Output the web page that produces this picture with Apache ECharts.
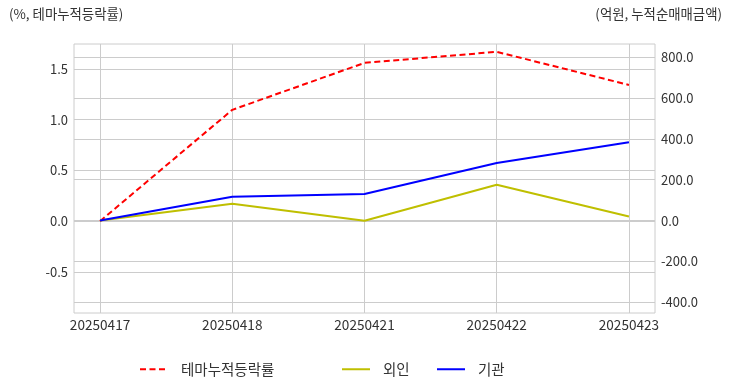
<!DOCTYPE html>
<html>
<head>
<meta charset="utf-8">
<script src="https://cdn.jsdelivr.net/npm/echarts@6/dist/echarts.min.js"></script>
<style>
  html, body { margin: 0; padding: 0; background: #ffffff; }
  #chart { width: 732px; height: 392px; }
</style>
</head>
<body>
<div id="chart"></div>
<script>
const categories = ['20250417', '20250418', '20250421', '20250422', '20250423'];
const themeReturn = [0.0, 1.096, 1.558, 1.667, 1.341];   // %, left axis
const foreignNet = [0, 82, -1, 175, 20];                 // 억원, right axis
const instNet = [0, 117, 130, 282, 383];                 // 억원, right axis
const leftTicks = [-0.5, 0.0, 0.5, 1.0, 1.5];
const rightTicks = [-400, -200, 0, 200, 400, 600, 800];
const seriesNames = ['테마누적등락률', '외인', '기관'];
const leftTitle = '(%, 테마누적등락률)';
const rightTitle = '(억원, 누적순매매금액)';

const FONT = '"Noto Sans CJK KR", "Noto Sans", sans-serif';
const TXT = '#333333';
const GRIDC = '#cccccc';
const idx = categories.map((c, i) => i);
const toPts = arr => arr.map((v, i) => [i, v]);

function legendFor(name, left) {
  return {
    data: [name], left: left, top: 362, padding: 0, itemWidth: 28, itemHeight: 14,
    itemStyle: { opacity: 0 },
    textStyle: { fontSize: 14.5, color: TXT, fontFamily: FONT, padding: [0, 0, 0, 8] }
  };
}

const chart = echarts.init(document.getElementById('chart'), null, { renderer: 'canvas' });
chart.setOption({
  backgroundColor: '#ffffff',
  animation: false,
  textStyle: { fontFamily: FONT },
  title: [
    { text: leftTitle, left: 9, top: 7, padding: 0, textStyle: { fontSize: 13.4, fontWeight: 'normal', color: TXT, fontFamily: FONT } },
    { text: rightTitle, right: 10, top: 7, padding: 0, textStyle: { fontSize: 13.4, fontWeight: 'normal', color: TXT, fontFamily: FONT } }
  ],
  grid: {
    left: 74, right: 77, top: 44, bottom: 79,
    show: true, borderColor: GRIDC, borderWidth: 1, backgroundColor: 'transparent'
  },
  legend: [
    legendFor(seriesNames[0], 139),
    legendFor(seriesNames[1], 341),
    legendFor(seriesNames[2], 436)
  ],
  xAxis: {
    type: 'value', min: -0.197, max: 4.197,
    axisLine: { show: false },
    axisTick: { show: false, customValues: idx },
    axisLabel: { customValues: idx, formatter: v => categories[Math.round(v)], fontSize: 13.6, color: TXT, margin: 5, fontFamily: FONT },
    splitLine: { show: true, lineStyle: { color: GRIDC, width: 1 } }
  },
  yAxis: [
    {
      type: 'value', min: -0.904, max: 1.744, position: 'left',
      axisLine: { show: false },
      axisTick: { show: false, customValues: leftTicks },
      axisLabel: { customValues: leftTicks, formatter: v => v.toFixed(1), fontSize: 13, color: TXT, margin: 6, fontFamily: FONT },
      splitLine: { show: true, lineStyle: { color: GRIDC, width: 1 } }
    },
    {
      type: 'value', min: -452, max: 864, position: 'right',
      axisLine: { show: false },
      axisTick: { show: false, customValues: rightTicks },
      axisLabel: { customValues: rightTicks, formatter: v => v.toFixed(1), fontSize: 13, color: TXT, margin: 6, fontFamily: FONT },
      splitLine: { show: true, lineStyle: { color: GRIDC, width: 1 } }
    }
  ],
  series: [
    { name: seriesNames[0], type: 'line', yAxisIndex: 0, data: toPts(themeReturn), symbol: 'none',
      color: '#ff0000', lineStyle: { color: '#ff0000', width: 2, type: [6, 3.5] }, z: 2 },
    { name: seriesNames[1], type: 'line', yAxisIndex: 1, data: toPts(foreignNet), symbol: 'none',
      color: '#bfbf00', lineStyle: { color: '#bfbf00', width: 2 }, z: 3 },
    { name: seriesNames[2], type: 'line', yAxisIndex: 1, data: toPts(instNet), symbol: 'none',
      color: '#0000ff', lineStyle: { color: '#0000ff', width: 2 }, z: 4 }
  ]
});
</script>
</body>
</html>
